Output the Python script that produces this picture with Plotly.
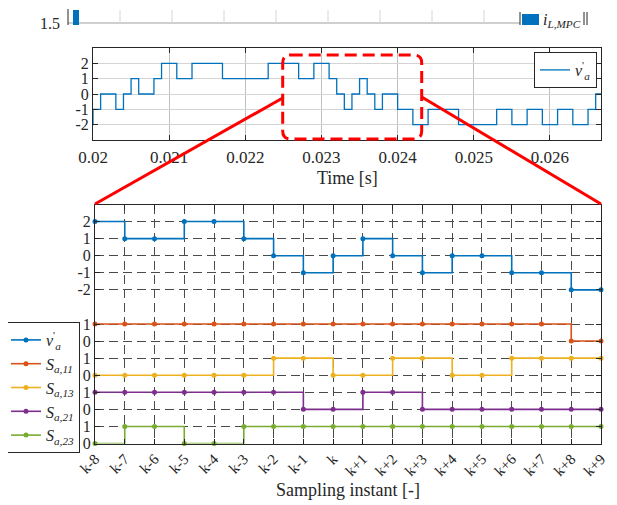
import plotly.graph_objects as go

# the page body adds an 8 px margin, so the figure is 8 px smaller and
# all reference pixel positions are converted with that offset
OFF = 8
W, H = 617 - OFF, 505 - OFF
FONT = "Liberation Serif"
AX = "#262626"
C_BLUE, C_ORANGE, C_YELLOW, C_PURPLE, C_GREEN = "#0072BD", "#D95319", "#EDB120", "#7E2F8E", "#77AC30"

# ---------------- top plot data (100 us sampling grid) ----------------
t_first = 0.0199
Ts = 0.0001
v_top = [-2, -1, 0, 0, -1, 0, 1, 0, 0, 1,
         2, 2, 1, 1, 2, 2, 2, 2, 1, 1,
         1, 1, 1, 1, 2, 2, 2, 2, 1, 1,
         2, 2, 1, 0, -1, 0, 1, 0, -1, 0,
         0, -1, -1, -2, -2, -1, -1, -1, -1, -2,
         -2, -2, -2, -2, -1, -1, -2, -2, -1, -1,
         -2, -2, -1, -1, -2, -2, -1, 0, 0]
t_top = [round(t_first + i * Ts, 5) for i in range(len(v_top))]
top_xticks = [0.020, 0.021, 0.022, 0.023, 0.024, 0.025, 0.026]
top_xtext = ["0.02", "0.021", "0.022", "0.023", "0.024", "0.025", "0.026"]
top_yticks = [-2, -1, 0, 1, 2]
top_ytext = ["-2", "-1", "0", "1", "2"]

# ---------------- bottom plot data ----------------
k_labels = ["k-8", "k-7", "k-6", "k-5", "k-4", "k-3", "k-2", "k-1", "k",
            "k+1", "k+2", "k+3", "k+4", "k+5", "k+6", "k+7", "k+8", "k+9"]
v_a = [2, 1, 1, 2, 2, 1, 0, -1, 0, 1, 0, -1, 0, 0, -1, -1, -2, -2]
S_a11 = [1, 1, 1, 1, 1, 1, 1, 1, 1, 1, 1, 1, 1, 1, 1, 1, 0, 0]
S_a13 = [0, 0, 0, 0, 0, 0, 1, 1, 0, 0, 1, 1, 0, 0, 1, 1, 1, 1]
S_a21 = [1, 1, 1, 1, 1, 1, 1, 0, 0, 1, 1, 0, 0, 0, 0, 0, 0, 0]
S_a23 = [0, 1, 1, 0, 0, 1, 1, 1, 1, 1, 1, 1, 1, 1, 1, 1, 1, 1]
# vertical stacking offsets of each signal on the shared axis
offsets = {"v": 11, "S11": 6, "S13": 4, "S21": 2, "S23": 0}
bot_yticks = [0, 1, 2, 3, 4, 5, 6, 7, 9, 10, 11, 12, 13]
bot_ytext = ["0", "1", "0", "1", "0", "1", "0", "1", "-2", "-1", "0", "1", "2"]

def X(px):
    return (px - OFF) / W

def Y(py):
    return 1 - (py - OFF) / H

fig = go.Figure()

fig.add_trace(go.Scatter(
    x=t_top, y=v_top, mode="lines", line=dict(color=C_BLUE, width=1.3, shape="hv"),
    name="<i>v</i><sup>'</sup><sub><i>a</i></sub>", xaxis="x", yaxis="y", legend="legend2"))

series = [
    ("<i>v</i><sup>'</sup><sub><i>a</i></sub>", v_a, offsets["v"], C_BLUE),
    ("<i>S</i><sub><i>a,11</i></sub>", S_a11, offsets["S11"], C_ORANGE),
    ("<i>S</i><sub><i>a,13</i></sub>", S_a13, offsets["S13"], C_YELLOW),
    ("<i>S</i><sub><i>a,21</i></sub>", S_a21, offsets["S21"], C_PURPLE),
    ("<i>S</i><sub><i>a,23</i></sub>", S_a23, offsets["S23"], C_GREEN),
]
for name, vals, off, col in series:
    fig.add_trace(go.Scatter(
        x=k_labels, y=[v + off for v in vals], mode="lines+markers",
        line=dict(color=col, width=1.6, shape="hv"),
        marker=dict(color=col, size=5),
        name=name, xaxis="x2", yaxis="y2", legend="legend", cliponaxis=False))

tickfont = dict(family=FONT, size=16, color=AX)
common = dict(showline=True, linecolor=AX, linewidth=1, mirror="allticks",
              ticks="inside", ticklen=5, tickcolor=AX, zeroline=False,
              automargin=False)

fig.update_layout(
    template="none",
    width=W, height=H, margin=dict(l=0, r=0, t=0, b=0, autoexpand=False),
    paper_bgcolor="white", plot_bgcolor="white",
    font=dict(family=FONT, color=AX),
    xaxis=dict(domain=[X(93), X(601)], range=[0.02, 0.02667], anchor="y",
               tickvals=top_xticks, ticktext=top_xtext,
               tickfont=dict(family=FONT, size=17, color=AX),
               ticklabelstandoff=2,
               showgrid=True, gridcolor="#c0c0c0", gridwidth=1,
               **common),
    yaxis=dict(domain=[Y(140), Y(48)], range=[-3, 3], anchor="x",
               tickvals=top_yticks, ticktext=top_ytext, tickfont=tickfont,
               showgrid=True, gridcolor="#d4d4d4", gridwidth=1, **common),
    xaxis2=dict(domain=[X(95), X(601)], range=[0, 17], anchor="y2", type="category",
                showgrid=True, gridcolor="#4a4a4a", gridwidth=1, griddash="9px,5px",
                tickangle=-45, tickfont=dict(family=FONT, size=15, color=AX),
                title=dict(text="Sampling instant [-]", font=dict(family=FONT, size=18, color=AX), standoff=5),
                **common),
    yaxis2=dict(domain=[Y(443.5), Y(204.5)], range=[0, 14], anchor="x2",
                tickvals=bot_yticks, ticktext=bot_ytext, tickfont=tickfont,
                showgrid=True, gridcolor="#4a4a4a", gridwidth=1, griddash="9px,5px",
                **common),
    legend=dict(x=X(5), y=Y(322), xanchor="left", yanchor="top",
                bgcolor="white", bordercolor=AX, borderwidth=1,
                font=dict(family=FONT, size=16, color=AX),
                itemwidth=30, tracegroupgap=0),
    legend2=dict(x=X(597), y=Y(52), xanchor="right", yanchor="top",
                 bgcolor="white", bordercolor=AX, borderwidth=1,
                 font=dict(family=FONT, size=16, color=AX), itemwidth=30),
)

# x-axis title of the top plot, placed as in the reference
fig.add_annotation(text="Time [s]", xref="paper", yref="paper", x=X(347), y=Y(178),
                   xanchor="center", yanchor="middle", showarrow=False,
                   font=dict(family=FONT, size=18, color=AX))

# ---------------- red zoom annotation ----------------
L, R, T, B, r = 282.7, 421.7, 55, 139, 8
def P(px, py):
    return f"{X(px):.5f},{Y(py):.5f}"
path = (f"M {P(L + r, T)} L {P(R - r, T)} Q {P(R, T)} {P(R, T + r)} "
        f"L {P(R, B - r)} Q {P(R, B)} {P(R - r, B)} L {P(L + r, B)} "
        f"Q {P(L, B)} {P(L, B - r)} L {P(L, T + r)} Q {P(L, T)} {P(L + r, T)} Z")
fig.add_shape(type="path", path=path, xref="paper", yref="paper",
              line=dict(color="#ff0000", width=3, dash="12px,6px"), layer="above")
fig.add_shape(type="line", xref="paper", yref="paper", x0=X(L), y0=Y(98), x1=X(95), y1=Y(204),
              line=dict(color="#ff0000", width=3), layer="above")
fig.add_shape(type="line", xref="paper", yref="paper", x0=X(R), y0=Y(97), x1=X(601), y1=Y(204),
              line=dict(color="#ff0000", width=3), layer="above")

# ---------------- cropped fragment of the figure above ----------------
fig.add_shape(type="line", xref="paper", yref="paper", x0=X(68), y0=Y(23), x1=X(520), y1=Y(23),
              line=dict(color="#a0a0a0", width=1))
for gx in [120, 172, 224, 276, 328, 380, 432, 484]:
    fig.add_shape(type="line", xref="paper", yref="paper", x0=X(gx), y0=Y(10), x1=X(gx), y1=Y(23),
                  line=dict(color="#d6d6d6", width=1))
fig.add_shape(type="line", xref="paper", yref="paper", x0=X(68), y0=Y(9), x1=X(68), y1=Y(25),
              line=dict(color=AX, width=1))
fig.add_shape(type="rect", xref="paper", yref="paper", x0=X(73), y0=Y(25), x1=X(79), y1=Y(10),
              fillcolor=C_BLUE, line=dict(width=0))
fig.add_shape(type="line", xref="paper", yref="paper", x0=X(520), y0=Y(12), x1=X(520), y1=Y(25),
              line=dict(color=AX, width=1))
fig.add_shape(type="rect", xref="paper", yref="paper", x0=X(522), y0=Y(25), x1=X(539), y1=Y(14),
              fillcolor=C_BLUE, line=dict(width=0))
for gx in [584, 587]:
    fig.add_shape(type="line", xref="paper", yref="paper", x0=X(gx), y0=Y(12), x1=X(gx), y1=Y(25),
                  line=dict(color=AX, width=1))
fig.add_annotation(text="1.5", xref="paper", yref="paper", x=X(62), y=Y(24), xanchor="right",
                   yanchor="middle", showarrow=False, font=dict(family=FONT, size=16, color=AX))
fig.add_annotation(text="<i>i</i><sub><i>L,MPC</i></sub>", xref="paper", yref="paper", x=X(541), y=Y(21),
                   xanchor="left", yanchor="middle", showarrow=False,
                   font=dict(family=FONT, size=16, color=AX))

fig.write_html("out.html")
